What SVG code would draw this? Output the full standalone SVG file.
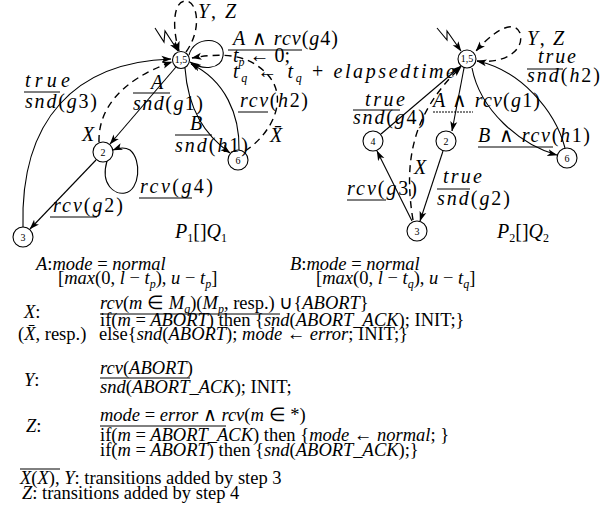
<svg xmlns="http://www.w3.org/2000/svg" width="611" height="511" viewBox="0 0 611 511">
<style>
.nd{fill:#fff;stroke:#000;stroke-width:1.1}
.nl{font-family:"Liberation Serif",serif;font-size:10px;text-anchor:middle}
.e{fill:none;stroke:#000;stroke-width:1.1}
.d{fill:none;stroke:#000;stroke-width:1.4;stroke-dasharray:7 5}
.bar{stroke:#000;stroke-width:1}
.m{font-family:"Liberation Serif",serif;font-style:italic;font-size:20px}
.t{font-family:"Liberation Serif",serif;font-style:italic;font-size:18.5px}
.r{font-style:normal}
.sb{font-size:12px}
</style>
<defs>
<marker id="ah" viewBox="0 0 10 8" refX="9.5" refY="4" markerWidth="10" markerHeight="8" orient="auto" markerUnits="userSpaceOnUse">
<path d="M0,0.5 L10,4 L0,7.5 L2.5,4 z" fill="#000"/>
</marker>
</defs>
<g id="connectors">
<path class="e" d="M155,28 L164,42 L165,31 L178,51" marker-end="url(#ah)"/>
<path class="d" d="M186,52 C203,28 197,0 185,1 C173,2 172,28 179,51" marker-end="url(#ah)"/>
<path class="e" d="M189,55 C194,35 226,36 223,56 C221,70 202,70 190,62" marker-end="url(#ah)"/>
<path class="d" d="M245,151 C270,135 290,100 268,75 C250,55 225,52 192,58" marker-end="url(#ah)"/>
<path class="e" d="M176,67 L110,144" marker-end="url(#ah)"/>
<path class="e" d="M185,68 C188,110 205,135 230,153" marker-end="url(#ah)"/>
<path class="e" d="M239,150 C240,115 225,80 191,64" marker-end="url(#ah)"/>
<path class="e" d="M23,227 C20,120 75,62 171,59" marker-end="url(#ah)"/>
<path class="d" d="M99,142 C98,110 120,80 172,62" marker-end="url(#ah)"/>
<path class="e" d="M96,160 L30,229" marker-end="url(#ah)"/>
<path class="e" d="M107,161 C100,185 115,195 125,193 C140,190 142,160 130,150 C125,147 118,148 113,150" marker-end="url(#ah)"/>
<path class="e" d="M437,28 L447,40 L447,31 L461,51" marker-end="url(#ah)"/>
<path class="d" d="M477,61 C505,64 525,50 520,33 C516,22 500,24 476,51" marker-end="url(#ah)"/>
<path class="e" d="M464,68 L452,131" marker-end="url(#ah)"/>
<path class="e" d="M472,68 C480,110 520,145 557,155" marker-end="url(#ah)"/>
<path class="e" d="M565,148 C555,110 520,70 477,61" marker-end="url(#ah)"/>
<path class="e" d="M381,134 L461,66" marker-end="url(#ah)"/>
<path class="e" d="M412,221 L377,151" marker-end="url(#ah)"/>
<path class="e" d="M443,151 L420,221" marker-end="url(#ah)"/>
<path class="d" d="M413,220 C404,165 410,115 461,67" marker-end="url(#ah)"/>
</g>
<g id="n15L"><circle class="nd" cx="181" cy="60" r="8.5"/><text class="nl" x="181" y="63" font-size="9">1,5</text></g>
<g id="n2L"><circle class="nd" cx="103" cy="152" r="10"/><text class="nl" x="103" y="156">2</text></g>
<g id="n3L"><circle class="nd" cx="23" cy="237" r="10"/><text class="nl" x="23" y="241">3</text></g>
<g id="n6L"><circle class="nd" cx="238" cy="160" r="10"/><text class="nl" x="238" y="164">6</text></g>
<g id="n15R"><circle class="nd" cx="467" cy="59" r="9"/><text class="nl" x="467" y="62" font-size="9">1,5</text></g>
<g id="n4R"><circle class="nd" cx="373" cy="141" r="10"/><text class="nl" x="373" y="145">4</text></g>
<g id="n2R"><circle class="nd" cx="446" cy="141" r="10"/><text class="nl" x="446" y="145">2</text></g>
<g id="n6R"><circle class="nd" cx="567" cy="158" r="10"/><text class="nl" x="567" y="162">6</text></g>
<g id="n3R"><circle class="nd" cx="417" cy="231" r="10"/><text class="nl" x="417" y="235">3</text></g>
<g id="labels">
<text class="m" x="198" y="18" font-size="18" textLength="38">Y<tspan class="r">,</tspan> Z</text>
<text class="m" x="233" y="45" textLength="105">A <tspan class="r">∧</tspan> rcv<tspan class="r">(</tspan>g<tspan class="r">4)</tspan></text>
<line class="bar" x1="228" y1="50" x2="302" y2="50"/>
<text class="m" x="233" y="62">t<tspan class="sb" dy="4">p</tspan><tspan class="r" dy="-4"> ← 0;</tspan></text>
<text class="m" x="233" y="78" textLength="222">t<tspan class="sb" dy="4">q</tspan><tspan class="r" dy="-4"> ← </tspan>t<tspan class="sb" dy="4">q</tspan><tspan class="r" dy="-4"> + </tspan>elapsedtime</text>
<text class="m" x="240" y="107" textLength="68">rcv<tspan class="r">(</tspan>h<tspan class="r">2)</tspan></text>
<line class="bar" x1="238" y1="112" x2="268" y2="112"/>
<text class="m" x="25" y="87" textLength="45">true</text>
<line class="bar" x1="24" y1="92" x2="60" y2="92"/>
<text class="m" x="25" y="108" textLength="72">snd<tspan class="r">(</tspan>g<tspan class="r">3)</tspan></text>
<text class="m" x="151" y="89">A</text>
<line class="bar" x1="133" y1="93" x2="170" y2="93"/>
<text class="m" x="133" y="110" textLength="70">snd<tspan class="r">(</tspan>g<tspan class="r">1)</tspan></text>
<text class="m" x="190" y="130">B</text>
<line class="bar" x1="175" y1="135" x2="212" y2="135"/>
<text class="m" x="175" y="152" textLength="73">snd<tspan class="r">(</tspan>h<tspan class="r">1)</tspan></text>
<text class="m" x="82" y="141">X</text>
<text class="m" x="270" y="142">X̄</text>
<text class="m" x="53" y="212" textLength="70">rcv<tspan class="r">(</tspan>g<tspan class="r">2)</tspan></text>
<line class="bar" x1="50" y1="217" x2="97" y2="217"/>
<text class="m" x="140" y="193" textLength="73">rcv<tspan class="r">(</tspan>g<tspan class="r">4)</tspan></text>
<line class="bar" x1="139" y1="198" x2="192" y2="198"/>
<text class="m" x="175" y="238" font-size="21">P<tspan class="sb r" dy="4">1</tspan><tspan class="r" dy="-4">[]</tspan>Q<tspan class="sb r" dy="4">1</tspan></text>
<text class="m" x="527" y="45" textLength="37">Y<tspan class="r">,</tspan> Z</text>
<text class="m" x="538" y="63" textLength="38">true</text>
<line class="bar" x1="527" y1="69" x2="563" y2="69"/>
<text class="m" x="527" y="82" textLength="73">snd<tspan class="r">(</tspan>h<tspan class="r">2)</tspan></text>
<text class="m" x="433" y="107" textLength="107">A <tspan class="r">∧</tspan> rcv<tspan class="r">(</tspan>g<tspan class="r">1)</tspan></text>
<line class="bar" x1="433" y1="112" x2="473" y2="112" stroke-dasharray="2 1"/>
<text class="m" x="365" y="106" textLength="40">true</text>
<line class="bar" x1="353" y1="110" x2="400" y2="110"/>
<text class="m" x="353" y="124" textLength="72">snd<tspan class="r">(</tspan>g<tspan class="r">4)</tspan></text>
<text class="m" x="478" y="142" textLength="112">B <tspan class="r">∧</tspan> rcv<tspan class="r">(</tspan>h<tspan class="r">1)</tspan></text>
<line class="bar" x1="478" y1="147" x2="553" y2="147"/>
<text class="m" x="414" y="174">X</text>
<text class="m" x="347" y="195" textLength="70">rcv<tspan class="r">(</tspan>g<tspan class="r">3)</tspan></text>
<line class="bar" x1="347" y1="200" x2="386" y2="200"/>
<text class="m" x="443" y="183" textLength="39">true</text>
<line class="bar" x1="437" y1="189" x2="470" y2="189"/>
<text class="m" x="437" y="205" textLength="73">snd<tspan class="r">(</tspan>g<tspan class="r">2)</tspan></text>
<text class="m" x="497" y="238" font-size="21">P<tspan class="sb r" dy="4">2</tspan><tspan class="r" dy="-4">[]</tspan>Q<tspan class="sb r" dy="4">2</tspan></text>
</g>
<g id="legend">
<text class="t" x="36" y="270">A<tspan class="r">:</tspan>mode <tspan class="r">=</tspan> normal</text>
<text class="t" x="58" y="284"><tspan class="r">[</tspan>max<tspan class="r">(0, </tspan>l <tspan class="r">−</tspan> t<tspan class="sb" dy="4">p</tspan><tspan class="r" dy="-4">), </tspan>u <tspan class="r">−</tspan> t<tspan class="sb" dy="4">p</tspan><tspan class="r" dy="-4">]</tspan></text>
<text class="t" x="290" y="270">B<tspan class="r">:</tspan>mode <tspan class="r">=</tspan> normal</text>
<text class="t" x="316" y="284"><tspan class="r">[</tspan>max<tspan class="r">(0, </tspan>l <tspan class="r">−</tspan> t<tspan class="sb" dy="4">q</tspan><tspan class="r" dy="-4">), </tspan>u <tspan class="r">−</tspan> t<tspan class="sb" dy="4">q</tspan><tspan class="r" dy="-4">]</tspan></text>
<text class="t" x="24" y="318">X<tspan class="r">:</tspan></text>
<text class="t" x="100" y="309">rcv<tspan class="r">(</tspan>m <tspan class="r">∈</tspan> M<tspan class="sb" dy="4">q</tspan><tspan class="r" dy="-4">)(</tspan>M<tspan class="sb" dy="4">p</tspan><tspan class="r" dy="-4">, resp.) ∪{</tspan>ABORT<tspan class="r">}</tspan></text>
<line class="bar" x1="100" y1="314" x2="280" y2="314"/>
<text class="t" x="100" y="326"><tspan class="r">if(</tspan>m <tspan class="r">=</tspan> ABORT<tspan class="r">) then {</tspan>snd<tspan class="r">(</tspan>ABORT_ACK<tspan class="r">); INIT;}</tspan></text>
<text class="t r" x="18" y="340">(<tspan font-style="italic">X̄</tspan>, resp.)</text>
<text class="t" x="99" y="340"><tspan class="r">else{</tspan>snd<tspan class="r">(</tspan>ABORT<tspan class="r">); </tspan>mode <tspan class="r">←</tspan> error<tspan class="r">; INIT;}</tspan></text>
<text class="t" x="100" y="374">rcv<tspan class="r">(</tspan>ABORT<tspan class="r">)</tspan></text>
<line class="bar" x1="100" y1="378" x2="190" y2="378"/>
<text class="t" x="24" y="386">Y<tspan class="r">:</tspan></text>
<text class="t" x="100" y="393">snd<tspan class="r">(</tspan>ABORT_ACK<tspan class="r">); INIT;</tspan></text>
<text class="t" x="100" y="421">mode <tspan class="r">=</tspan> error <tspan class="r">∧</tspan> rcv<tspan class="r">(</tspan>m <tspan class="r">∈ *)</tspan></text>
<line class="bar" x1="100" y1="426" x2="226" y2="426"/>
<text class="t" x="26" y="432">Z<tspan class="r">:</tspan></text>
<text class="t" x="100" y="441"><tspan class="r">if(</tspan>m <tspan class="r">=</tspan> ABORT_ACK<tspan class="r">) then {</tspan>mode <tspan class="r">←</tspan> normal<tspan class="r">; }</tspan></text>
<text class="t" x="100" y="456"><tspan class="r">if(</tspan>m <tspan class="r">=</tspan> ABORT<tspan class="r">) then {</tspan>snd<tspan class="r">(</tspan>ABORT_ACK<tspan class="r">);}</tspan></text>
<line class="bar" x1="20" y1="469" x2="60" y2="469"/>
<text class="t" x="20" y="484">X<tspan class="r">(</tspan>X<tspan class="r">), </tspan>Y<tspan class="r">: transitions added by step 3</tspan></text>
<text class="t" x="22" y="499">Z<tspan class="r">: transitions added by step 4</tspan></text>
</g>
</svg>
